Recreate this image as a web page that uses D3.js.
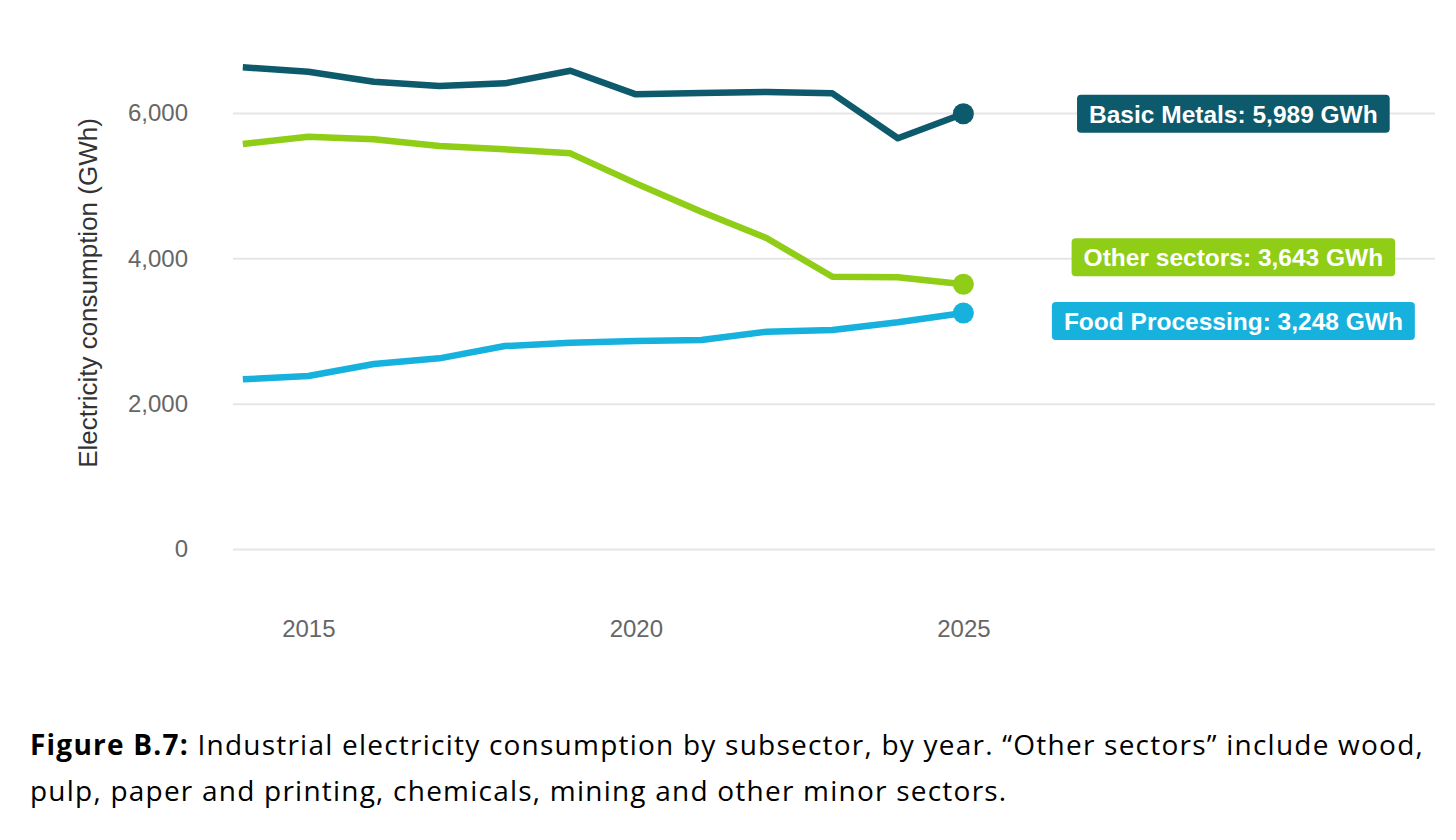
<!DOCTYPE html>
<html>
<head>
<meta charset="utf-8">
<script src="https://cdn.jsdelivr.net/npm/d3@7"></script>
<style>
  body { margin: 0; background: #fff; }
  svg { display: block; }
</style>
</head>
<body>
<svg id="chart" width="1456" height="840"></svg>
<script>
const years = [2014, 2015, 2016, 2017, 2018, 2019, 2020, 2021, 2022, 2023, 2024, 2025]
const basicMetals = [6629, 6568, 6431, 6371, 6408, 6582, 6257, 6275, 6289, 6271, 5652, 5989]
const otherSectors = [5573, 5674, 5638, 5546, 5500, 5445, 5032, 4642, 4276, 3747, 3739, 3643]
const foodProcessing = [2335, 2381, 2546, 2624, 2793, 2839, 2862, 2876, 2990, 3014, 3120, 3248]
const seriesNames = ['Basic Metals', 'Other sectors', 'Food Processing']
const yTicks = [0, 2000, 4000, 6000]
const xTicks = [2015, 2020, 2025]
const captionBold = 'Figure B.7:'
const captionLine1 = ' Industrial electricity consumption by subsector, by year. \u201cOther sectors\u201d include wood,'
const captionLine2 = 'pulp, paper and printing, chemicals, mining and other minor sectors.'

const colors = ['#0d5a6c', '#8fcd16', '#17b1de']
// vertical nudge of the end labels so they don't overlap
const labelNudge = [0, -27, 8]

const series = [basicMetals, otherSectors, foodProcessing].map((vals, i) => ({
  name: seriesNames[i],
  color: colors[i],
  nudge: labelNudge[i],
  values: vals.map((v, j) => ({ year: years[j], value: v }))
}))

const svg = d3.select('#chart')
const plotLeft = 233, plotRight = 1435, plotTop = 113, plotBottom = 549

const x = d3.scaleLinear().domain([2013.85, 2032.2]).range([plotLeft, plotRight])
const y = d3.scaleLinear().domain([0, 6000]).range([plotBottom, plotTop])

const font = '"Liberation Sans", Arial, sans-serif'

// y axis + gridlines
const yAxis = svg.append('g')
  .attr('transform', `translate(${plotLeft},0)`)
  .call(d3.axisLeft(y).tickValues(yTicks).tickFormat(d3.format(','))
    .tickSize(-(plotRight - plotLeft)).tickPadding(45))
yAxis.select('.domain').remove()
yAxis.selectAll('line').attr('stroke', '#e6e6e6').attr('stroke-width', 2)
yAxis.selectAll('text').attr('fill', '#666').style('font', `24px ${font}`)

// x axis
const xAxis = svg.append('g')
  .attr('transform', `translate(0,${plotBottom})`)
  .call(d3.axisBottom(x).tickValues(xTicks).tickFormat(d3.format('d'))
    .tickSize(0).tickPadding(71))
xAxis.select('.domain').remove()
xAxis.selectAll('text').attr('fill', '#666').style('font', `24px ${font}`)

// y title
svg.append('text')
  .attr('transform', 'translate(97,293) rotate(-90)')
  .attr('text-anchor', 'middle')
  .attr('fill', '#333')
  .style('font', `26px ${font}`)
  .text('Electricity consumption (GWh)')

const line = d3.line()
  .x(d => x(d.year))
  .y(d => y(d.value))

svg.append('g').selectAll('path')
  .data(series)
  .join('path')
  .attr('d', d => line(d.values))
  .attr('fill', 'none')
  .attr('stroke', d => d.color)
  .attr('stroke-width', 6.5)
  .attr('stroke-linejoin', 'round')

const last = d => d.values[d.values.length - 1]

svg.append('g').selectAll('circle')
  .data(series)
  .join('circle')
  .attr('cx', d => x(last(d).year))
  .attr('cy', d => y(last(d).value))
  .attr('r', 10.5)
  .attr('fill', d => d.color)

// end labels
const labels = svg.append('g').selectAll('g')
  .data(series)
  .join('g')
  .attr('transform', d => `translate(${x(last(d).year) + 270},${y(last(d).value) + d.nudge})`)

labels.append('rect')
labels.append('text')
  .attr('text-anchor', 'middle')
  .attr('dy', '0.36em')
  .attr('fill', '#fff')
  .style('font', `bold 24.5px ${font}`)
  .text(d => `${d.name}: ${d3.format(',')(last(d).value)} GWh`)

labels.each(function (d) {
  const g = d3.select(this)
  const w = g.select('text').node().getComputedTextLength() + 24
  g.select('rect')
    .attr('x', -w / 2)
    .attr('y', -19)
    .attr('width', w)
    .attr('height', 38)
    .attr('rx', 4)
    .attr('fill', d.color)
})

// caption
const capFont = '"Open Sans", "Noto Sans", sans-serif'
const cap1 = svg.append('text')
  .attr('x', 30).attr('y', 755)
  .attr('fill', '#000')
  .style('font', `28px ${capFont}`)
cap1.append('tspan').attr('font-weight', 'bold').text(captionBold)
cap1.append('tspan').text(captionLine1)

const cap2 = svg.append('text')
  .attr('x', 30).attr('y', 801)
  .attr('fill', '#000')
  .style('font', `28px ${capFont}`)
  .text(captionLine2)

// stretch caption spacing so line 1 ends where the original wraps
const capWidth = 1394
const nChars = (captionBold + captionLine1).length
const spacing = (capWidth - cap1.node().getComputedTextLength()) / nChars
cap1.style('letter-spacing', `${spacing}px`)
cap2.style('letter-spacing', `${spacing}px`)
</script>
</body>
</html>
